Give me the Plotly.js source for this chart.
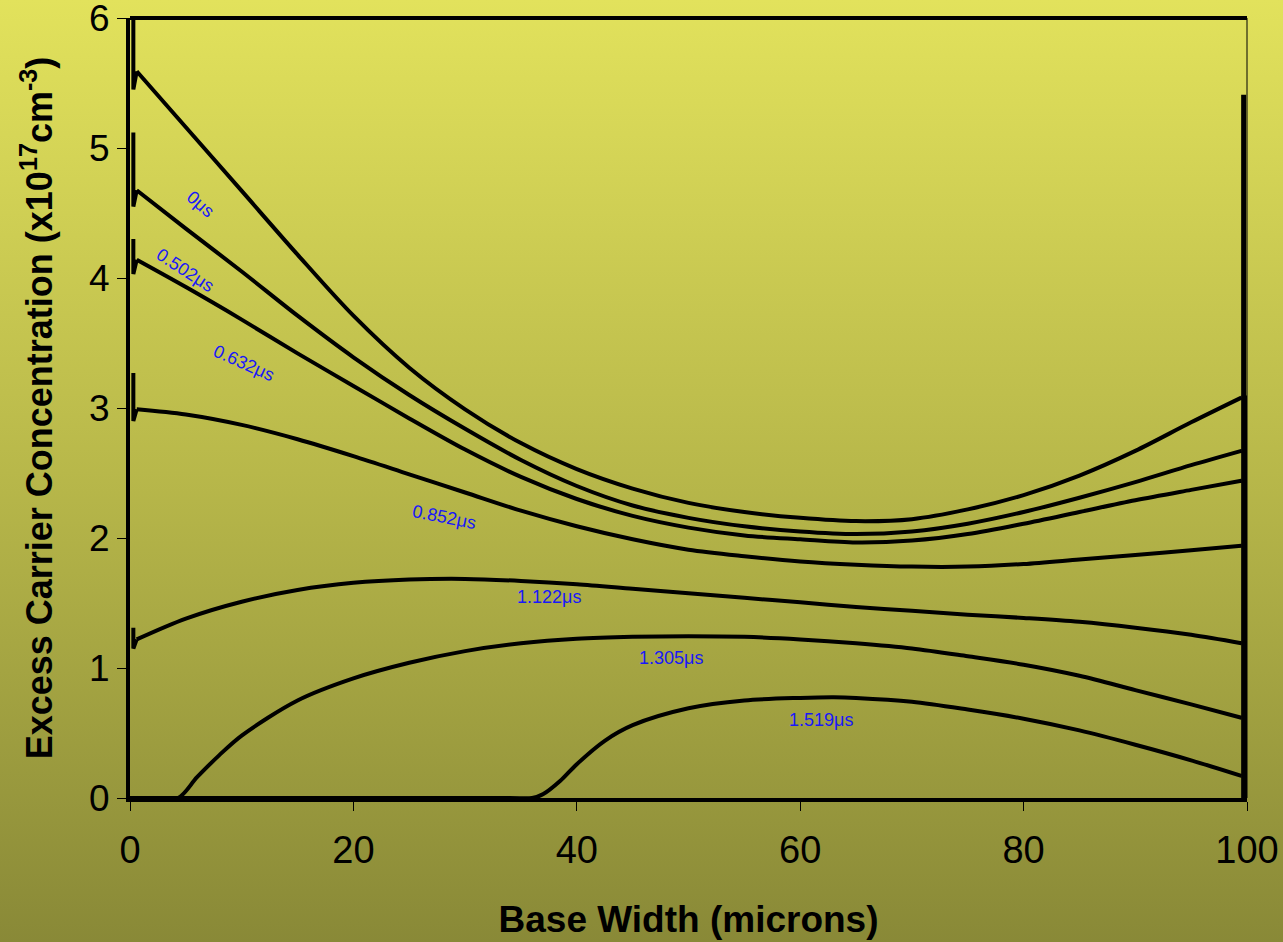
<!DOCTYPE html>
<html>
<head>
<meta charset="utf-8">
<script src="https://cdn.plot.ly/plotly-3.0.1.min.js"></script>
<style>
  html, body { margin: 0; padding: 0; }
  body { width: 1283px; height: 942px; background: linear-gradient(to bottom, #E2E25C 0%, #B8B84A 50%, #898937 100%); }
  #chart { width: 1283px; height: 942px; }
</style>
</head>
<body>
<div id="chart"></div>
<script>
// ---- data ----
const xGrid = [0.6, 5, 10, 15, 20, 25, 30, 35, 40, 45, 50, 55, 60, 65, 70, 75, 80, 85, 90, 95, 99.5];
const c0us  = [5.59, 5.16, 4.67, 4.18, 3.71, 3.31, 2.99, 2.73, 2.53, 2.38, 2.27, 2.20, 2.155, 2.13, 2.145, 2.22, 2.33, 2.48, 2.67, 2.89, 3.08];
const c0502 = [4.675, 4.38, 4.05, 3.71, 3.39, 3.10, 2.84, 2.60, 2.40, 2.25, 2.155, 2.09, 2.05, 2.03, 2.05, 2.11, 2.20, 2.31, 2.43, 2.56, 2.67];
const c0632 = [4.14, 3.93, 3.68, 3.42, 3.17, 2.92, 2.68, 2.47, 2.30, 2.17, 2.08, 2.02, 1.99, 1.965, 1.98, 2.03, 2.11, 2.20, 2.29, 2.37, 2.44];
const c0852 = [2.99, 2.95, 2.87, 2.76, 2.63, 2.49, 2.35, 2.21, 2.09, 1.99, 1.91, 1.86, 1.82, 1.795, 1.78, 1.78, 1.80, 1.835, 1.87, 1.905, 1.94];
const c1122 = [1.22, 1.38, 1.51, 1.60, 1.655, 1.68, 1.685, 1.67, 1.645, 1.61, 1.575, 1.54, 1.505, 1.47, 1.44, 1.41, 1.385, 1.355, 1.31, 1.255, 1.19];

const x1305 = [0, 2, 4.3, 6, 8, 10, 15, 20, 25, 30, 35, 40, 45, 50, 55, 60, 65, 70, 75, 80, 85, 90, 95, 99.5];
const c1305 = [0, 0, 0, 0.16, 0.33, 0.48, 0.75, 0.92, 1.04, 1.13, 1.19, 1.225, 1.24, 1.245, 1.24, 1.22, 1.19, 1.15, 1.09, 1.025, 0.94, 0.83, 0.72, 0.617];

const x1519 = [0, 20, 34, 36, 37, 38.5, 40, 42.5, 45, 50, 55, 60, 63, 65, 70, 75, 80, 85, 90, 95, 99.5];
const c1519 = [0, 0, 0, 0, 0.03, 0.13, 0.26, 0.44, 0.56, 0.69, 0.75, 0.77, 0.775, 0.77, 0.74, 0.68, 0.61, 0.52, 0.41, 0.29, 0.17];

// left-edge spikes (top, bottom of spike) per curve
const spikeTop    = [6.0, 5.12, 4.3, 3.27, 1.31];
const spikeBottom = [5.45, 4.55, 4.03, 2.9, 1.15];

// right-edge drop
const rightEdgeX = [99.7, 99.7];
const rightEdgeY = [5.41, 0];

const labels  = ["0\u03bcs", "0.502\u03bcs", "0.632\u03bcs", "0.852\u03bcs", "1.122\u03bcs", "1.305\u03bcs", "1.519\u03bcs"];
const labelX  = [6.3, 4.9, 10.2, 28.1, 37.5, 48.4, 61.9];
const labelY  = [4.57, 4.06, 3.35, 2.16, 1.55, 1.08, 0.60];
const labelAngle = [41, 33, 24, 11, 0, 0, 0];

const xTicks = [0, 20, 40, 60, 80, 100];
const yTicks = [0, 1, 2, 3, 4, 5, 6];

// ---- traces ----
const lineStyle = {color: '#000000', width: 4, shape: 'spline', smoothing: 0.9};
const edgeStyle = {color: '#000000', width: 4};
const mainSeries = [c0us, c0502, c0632, c0852, c1122];
const traces = [];
mainSeries.forEach((ys, i) => {
  traces.push({x: xGrid, y: ys, mode: 'lines', line: lineStyle, hoverinfo: 'skip', showlegend: false});
  traces.push({x: [0.3, 0.3, xGrid[0]], y: [spikeTop[i], spikeBottom[i], ys[0]], mode: 'lines',
               line: edgeStyle, hoverinfo: 'skip', showlegend: false});
  traces.push({x: [xGrid[xGrid.length - 1], 100, 100], y: [ys[ys.length - 1], ys[ys.length - 1], 0], mode: 'lines',
               line: edgeStyle, hoverinfo: 'skip', showlegend: false});
});
traces.push({x: x1305, y: c1305, mode: 'lines', line: lineStyle, hoverinfo: 'skip', showlegend: false});
traces.push({x: [x1305[x1305.length - 1], 100, 100], y: [c1305[c1305.length - 1], c1305[c1305.length - 1], 0], mode: 'lines',
             line: edgeStyle, hoverinfo: 'skip', showlegend: false});
traces.push({x: x1519, y: c1519, mode: 'lines', line: lineStyle, hoverinfo: 'skip', showlegend: false});
traces.push({x: [x1519[x1519.length - 1], 100, 100], y: [c1519[c1519.length - 1], c1519[c1519.length - 1], 0], mode: 'lines',
             line: edgeStyle, hoverinfo: 'skip', showlegend: false});
traces.push({x: rightEdgeX, y: rightEdgeY, mode: 'lines', line: {color: '#000000', width: 5}, hoverinfo: 'skip', showlegend: false});

const annotations = labels.map((t, i) => ({
  x: labelX[i], y: labelY[i], xref: 'x', yref: 'y', text: t, showarrow: false,
  textangle: labelAngle[i], font: {family: 'Liberation Sans, Arial, sans-serif', size: 18, color: '#1818F8'}
}));

const layout = {
  width: 1283, height: 942,
  margin: {l: 130, r: 36, t: 18, b: 144, pad: 0},
  paper_bgcolor: 'rgba(0,0,0,0)',
  plot_bgcolor: 'rgba(0,0,0,0)',
  font: {family: 'Liberation Sans, Arial, sans-serif', color: '#000000'},
  xaxis: {
    range: [0, 100], tickvals: xTicks, ticktext: xTicks.map(String),
    showgrid: false, zeroline: false, showline: true, linecolor: '#000000', linewidth: 4,
    ticks: 'outside', ticklen: 9, tickwidth: 1, tickcolor: '#000000',
    ticklabelstandoff: 6, ticklabeloverflow: 'allow',
    tickfont: {size: 38, family: 'Liberation Sans, Arial, sans-serif'},
    title: {text: 'Base Width (microns)', font: {size: 37, family: 'Liberation Sans, Arial, sans-serif', weight: 'bold'}, standoff: 38},
    fixedrange: true
  },
  yaxis: {
    range: [0, 6], tickvals: yTicks, ticktext: yTicks.map(String),
    showgrid: false, zeroline: false, showline: true, linecolor: '#000000', linewidth: 4,
    ticks: 'outside', ticklen: 9, tickwidth: 1, tickcolor: '#000000',
    ticklabeloverflow: 'allow',
    tickfont: {size: 37, family: 'Liberation Sans, Arial, sans-serif'},
    title: {text: 'Excess Carrier Concentration (x10<sup>17</sup>cm<sup>-3</sup>)', font: {size: 36, family: 'Liberation Sans, Arial, sans-serif', weight: 'bold'}, standoff: 26},
    fixedrange: true
  },
  shapes: [
    {type: 'line', xref: 'paper', yref: 'paper', x0: 0, x1: 1, y0: 1, y1: 1, line: {color: '#000000', width: 4}},
    {type: 'line', xref: 'paper', yref: 'paper', x0: 1, x1: 1, y0: 0, y1: 1, line: {color: '#000000', width: 1}}
  ],
  annotations: annotations,
  showlegend: false
};

Plotly.newPlot('chart', traces, layout, {displayModeBar: false, staticPlot: true});
</script>
</body>
</html>
